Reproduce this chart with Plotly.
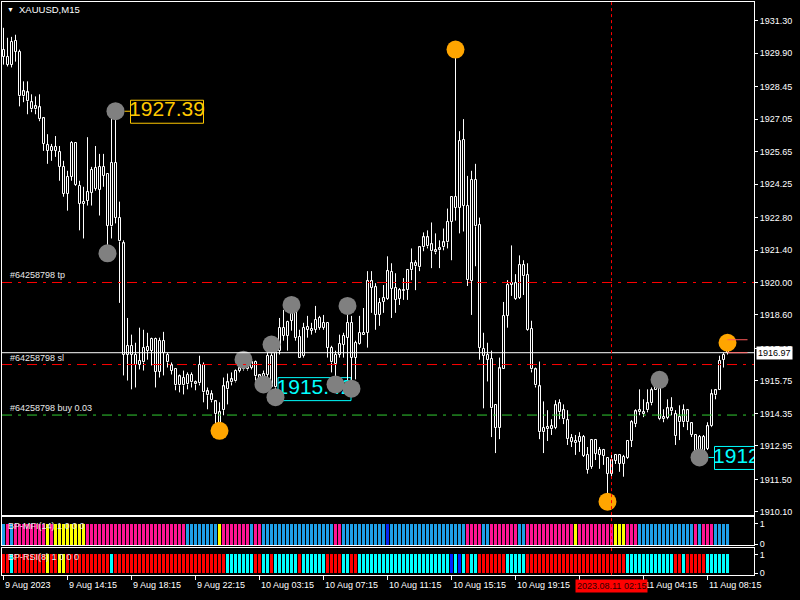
import plotly.graph_objects as go

# ---------------- data ----------------
opens = [1930.05,1929.40,1929.40,1930.43,1929.96,1928.25,1928.20,1927.78,1927.60,1927.56,
         1927.09,1925.93,1925.68,1925.85,1925.63,1924.99,1923.83,1926.02,1926.02,1924.17,
         1923.40,1923.53,1923.87,1924.95,1924.00,1924.99,1924.69,1922.42,1925.16,1922.80,
         1921.69,1916.89,1917.27,1916.89,1916.46,1916.55,1917.06,1917.57,1917.57,1916.16,
         1917.49,1916.89,1916.42,1916.25,1915.95,1915.56,1915.60,1916.03,1915.60,1916.46,
         1916.46,1915.30,1915.17,1914.87,1913.63,1914.49,1915.39,1915.69,1915.73,1916.20,
         1916.25,1916.55,1916.55,1916.59,1915.77,1915.82,1916.84,1916.84,1915.47,1917.06,
         1917.70,1917.70,1918.35,1918.99,1917.66,1916.84,1918.09,1917.92,1917.96,1918.47,
         1918.26,1918.26,1917.19,1916.50,1916.89,1917.32,1917.62,1918.26,1916.76,1917.36,
         1917.75,1917.83,1920.06,1919.80,1918.60,1919.16,1919.29,1920.45,1919.76,1919.29,
         1919.63,1919.67,1920.53,1920.70,1920.66,1921.52,1921.95,1921.65,1921.30,1921.39,
         1921.52,1921.73,1922.63,1923.23,1923.23,1926.15,1923.32,1920.06,1924.43,1922.50,
         1917.15,1916.89,1916.72,1914.70,1913.72,1916.25,1918.56,1919.97,1919.29,1919.33,
         1920.75,1920.32,1918.00,1916.25,1915.52,1913.54,1913.67,1913.67,1913.72,1914.79,
         1914.49,1914.06,1913.29,1913.07,1913.33,1913.33,1911.92,1912.05,1913.20,1912.77,
         1912.77,1912.43,1911.75,1912.56,1912.56,1912.17,1912.43,1913.16,1913.89,1914.49,
         1914.32,1914.49,1914.79,1915.65,1915.43,1914.10,1914.15,1914.57,1914.32,1913.97,
         1914.49,1913.97,1913.93,1913.42,1912.60,1912.69,1912.82,1913.80,1915.13,1915.35,
         1916.67,1917.06]
highs = [1930.99,1930.56,1930.60,1930.69,1930.05,1928.68,1928.68,1928.12,1928.03,1928.12,
         1927.13,1926.40,1925.98,1926.32,1925.89,1925.25,1924.82,1926.10,1926.06,1924.39,
         1924.13,1926.27,1924.99,1925.89,1925.55,1925.55,1924.69,1927.30,1927.39,1923.49,
         1921.82,1918.47,1917.75,1917.40,1918.05,1917.96,1917.83,1917.62,1917.62,1917.62,
         1917.87,1916.97,1916.55,1916.25,1916.03,1916.20,1916.12,1916.12,1915.77,1916.84,
         1916.55,1915.47,1915.35,1914.92,1914.83,1915.90,1916.07,1916.12,1916.25,1916.46,
         1916.67,1916.63,1916.67,1916.63,1916.03,1916.20,1917.32,1917.32,1917.10,1918.47,
         1918.82,1918.35,1919.03,1918.99,1917.96,1918.26,1918.56,1918.26,1918.99,1918.56,
         1918.60,1918.26,1917.27,1917.06,1917.75,1917.83,1918.99,1918.56,1917.49,1918.56,
         1918.90,1920.49,1920.49,1919.97,1919.33,1919.89,1921.13,1920.83,1920.40,1919.76,
         1920.19,1920.53,1921.47,1920.96,1921.56,1922.16,1922.25,1922.59,1922.12,1921.82,
         1922.33,1923.19,1923.70,1930.05,1926.53,1927.05,1924.60,1924.82,1925.12,1922.80,
         1917.83,1917.40,1917.06,1914.70,1916.76,1919.16,1920.10,1921.60,1920.36,1921.17,
         1920.96,1920.83,1918.35,1916.33,1916.59,1914.87,1914.49,1914.10,1914.92,1914.96,
         1914.74,1914.49,1913.46,1913.42,1913.54,1913.42,1912.90,1913.24,1913.20,1912.90,
         1912.82,1912.47,1912.60,1912.60,1912.60,1912.56,1913.20,1914.06,1914.53,1915.39,
         1914.96,1915.39,1915.47,1915.69,1915.80,1914.53,1914.96,1915.05,1914.49,1914.70,
         1914.74,1914.53,1913.97,1913.46,1913.42,1913.42,1913.97,1915.39,1915.39,1916.84,
         1916.97,1917.40]
lows = [1929.40,1929.32,1929.28,1929.53,1927.60,1927.78,1927.26,1927.35,1927.26,1926.96,
        1925.68,1925.12,1925.25,1925.42,1924.39,1923.70,1923.10,1924.39,1924.17,1922.25,
        1921.90,1923.32,1923.32,1923.96,1922.89,1924.13,1921.26,1921.90,1922.55,1919.12,
        1915.99,1915.77,1915.39,1915.47,1916.25,1916.20,1916.67,1916.42,1915.47,1915.90,
        1915.99,1916.33,1916.03,1915.35,1915.26,1915.17,1915.39,1915.47,1915.35,1915.56,
        1914.83,1914.53,1914.83,1913.84,1913.60,1914.27,1914.74,1915.56,1915.69,1916.12,
        1916.20,1916.20,1916.25,1915.77,1915.60,1915.60,1915.90,1915.45,1915.05,1916.89,
        1917.49,1917.06,1917.92,1917.49,1916.76,1916.76,1917.62,1917.75,1917.83,1917.96,
        1917.96,1916.76,1916.12,1915.60,1916.76,1916.76,1915.60,1915.42,1915.82,1917.32,
        1917.75,1917.19,1918.69,1917.96,1918.13,1918.69,1919.25,1918.47,1918.69,1919.03,
        1919.25,1919.25,1920.10,1919.67,1920.49,1921.35,1921.47,1920.62,1921.22,1920.62,
        1921.39,1921.47,1920.96,1922.67,1922.12,1922.20,1919.85,1918.60,1920.70,1916.67,
        1914.57,1915.73,1913.33,1912.64,1913.24,1916.25,1918.05,1919.42,1919.25,1919.29,
        1919.46,1917.92,1916.12,1915.47,1913.24,1912.64,1913.16,1913.42,1913.67,1914.10,
        1913.89,1912.99,1912.90,1912.56,1912.69,1912.47,1911.75,1911.96,1912.34,1911.96,
        1912.13,1910.54,1911.53,1912.17,1911.83,1911.62,1912.39,1912.90,1913.76,1914.27,
        1914.19,1914.40,1914.70,1915.35,1914.06,1913.97,1914.10,1914.27,1912.99,1913.20,
        1913.76,1913.63,1913.33,1912.56,1912.45,1912.56,1912.77,1913.76,1914.96,1915.35,
        1916.33,1916.89]
closes = [1929.75,1929.75,1930.39,1929.96,1928.03,1928.03,1927.82,1927.47,1927.47,1927.05,
          1925.98,1925.68,1925.85,1925.68,1924.99,1923.83,1924.56,1924.56,1924.22,1923.40,
          1923.49,1923.92,1924.86,1924.05,1924.99,1924.60,1922.46,1925.16,1922.80,1921.77,
          1916.89,1917.27,1916.89,1916.46,1916.63,1917.19,1917.23,1917.06,1916.16,1917.49,
          1916.97,1916.55,1916.20,1915.56,1915.56,1915.90,1916.03,1915.69,1915.69,1915.65,
          1915.26,1915.13,1914.92,1914.32,1914.40,1915.52,1915.69,1915.82,1916.20,1916.29,
          1916.55,1916.25,1916.33,1915.95,1915.99,1916.07,1916.03,1915.47,1917.06,1918.05,
          1918.05,1918.30,1918.99,1917.62,1916.76,1918.05,1917.96,1918.00,1918.39,1918.05,
          1918.05,1917.19,1916.55,1916.89,1917.36,1917.70,1918.26,1916.76,1917.40,1917.83,
          1917.83,1920.06,1919.76,1918.60,1919.12,1919.33,1920.49,1919.72,1919.25,1919.67,
          1919.67,1920.53,1920.83,1920.83,1921.52,1921.95,1921.56,1921.35,1921.39,1921.47,
          1921.73,1922.63,1923.70,1923.70,1926.10,1923.32,1920.10,1924.43,1922.42,1917.19,
          1916.84,1916.67,1914.57,1913.72,1916.29,1918.56,1919.89,1919.89,1919.97,1920.75,
          1920.27,1917.96,1916.25,1915.56,1913.54,1913.72,1913.76,1913.80,1914.70,1914.40,
          1914.10,1913.24,1913.12,1913.16,1913.12,1912.52,1912.56,1913.20,1912.60,1912.56,
          1912.52,1911.75,1912.34,1912.30,1912.17,1912.47,1913.16,1913.97,1914.44,1914.40,
          1914.40,1914.79,1915.35,1915.35,1914.10,1914.19,1914.57,1914.44,1913.37,1914.19,
          1913.97,1914.49,1913.42,1912.69,1913.33,1913.33,1913.80,1915.17,1915.35,1916.63,
          1916.89,1916.97]

price_ticks = [1931.30, 1929.90, 1928.45, 1927.05, 1925.65, 1924.25, 1922.80, 1921.40,
               1920.00, 1918.60, 1917.15, 1915.75, 1914.35, 1912.95, 1911.50, 1910.10]
time_tick_idx = [0, 16, 32, 48, 64, 80, 96, 112, 128, 144, 160, 176]
time_tick_labels = ["9 Aug 2023", "9 Aug 14:15", "9 Aug 18:15", "9 Aug 22:15",
                    "10 Aug 03:15", "10 Aug 07:15", "10 Aug 11:15", "10 Aug 15:15",
                    "10 Aug 19:15", "11 Aug 00:15", "11 Aug 04:15", "11 Aug 08:15"]

# fractal circles (bar indices)
gray_high_idx = [28, 60, 67, 72, 86, 164]
gray_low_idx = [26, 65, 68, 83, 87, 174]
orange_high_idx = [113, 181]
orange_low_idx = [54, 151]

# order / price levels
tp_level = 1920.00
sl_level = 1916.46
buy_level = 1914.28
bid_price = 1916.97
ask_price = 1917.53
order_label = "#64258798"
crosshair_idx = 152
crosshair_label = "2023.08.11 02:15"

# indicator states per bar, run-length: P=pink, B=blue, D=dark blue, Y=yellow
mfi_runs = [("B",1),("P",1),("B",1),("P",8),("Y",1),("P",1),("Y",8),("P",25),("B",8),("Y",1),
            ("P",7),("B",1),("P",2),("B",18),("P",2),("B",11),("D",1),("B",19),("P",4),("B",2),
            ("P",7),("B",2),("P",12),("Y",1),("P",9),("Y",3),("P",3),("B",14),("P",1),("B",1),
            ("P",3),("B",4)]
# R=red, C=cyan, D=blue, Y=yellow
rsi_runs = [("R",2),("C",1),("R",8),("Y",1),("R",2),("Y",2),("R",11),("C",1),("R",28),("C",7),
            ("R",2),("C",2),("R",1),("C",6),("R",1),("C",6),("R",4),("C",2),("R",2),("C",23),
            ("D",1),("C",1),("D",1),("C",1),("R",1),("C",2),("R",7),("C",5),("R",25),("C",12),
            ("R",2),("C",1),("R",5),("C",6)]

# ---------------- figure ----------------
n = len(closes)
idx = list(range(n))
FONT = "Liberation Sans, Arial, sans-serif"
W, H = 800, 600
xdom = [2 / W, 754 / W]
main_dom = [(H - 518) / H, (H - 2) / H]
mfi_dom = [(H - 549) / H, (H - 520) / H]
rsi_dom = [(H - 579) / H, (H - 552) / H]
xr = [-0.375, 187.625]
PX_PER_BAR = (xdom[1] - xdom[0]) * W / (xr[1] - xr[0])
yr_main = [1909.987, 1932.104]

mfi_col = {"P": "#FF1493", "B": "#1E9FE8", "D": "#0A28F0", "Y": "#FFFF00"}
rsi_col = {"R": "#FF0000", "C": "#00FFFF", "D": "#0020FF", "Y": "#FFFF00"}
mfi_colors = [mfi_col[c] for c, k in mfi_runs for _ in range(k)]
rsi_colors = [rsi_col[c] for c, k in rsi_runs for _ in range(k)]

body_lo = [min(o, c) for o, c in zip(opens, closes)]
body_hi = [max(o, c) for o, c in zip(opens, closes)]

# wicks outside the bodies
wx, wy = [], []
for i in idx:
    wx += [i, i, None, i, i, None]
    wy += [highs[i], body_hi[i], None, body_lo[i], lows[i], None]

fig = go.Figure()
# candle bodies (hollow)
fig.add_trace(go.Bar(x=idx, base=body_lo, y=[h - l for h, l in zip(body_hi, body_lo)],
                     width=0.5, marker=dict(color="black", line=dict(color="white", width=1)),
                     hoverinfo="skip", xaxis="x", yaxis="y"))
fig.add_trace(go.Scatter(x=wx, y=wy, mode="lines", line=dict(color="white", width=1),
                         hoverinfo="skip", xaxis="x", yaxis="y"))

# price labels (text) for fractals, drawn before the circles
label_specs = [  # (bar index, value, colour, pixel offset of box centre from the point)
    (28, highs[28], "#FFC800", 51.5),
    (87, lows[87], "#00FFFF", -37.0),
    (174, lows[174], "#00FFFF", 51.5),
]
for i, val, col, off in label_specs:
    fig.add_trace(go.Scatter(x=[i + off / PX_PER_BAR], y=[val], mode="text",
                             text=[f"{val:.2f}"], textposition="middle center",
                             textfont=dict(family=FONT, size=21, color=col),
                             hoverinfo="skip", xaxis="x", yaxis="y"))

# fractal circles
fig.add_trace(go.Scatter(
    x=gray_high_idx + gray_low_idx,
    y=[highs[i] for i in gray_high_idx] + [lows[i] for i in gray_low_idx],
    mode="markers", marker=dict(size=18, color="#808080"), hoverinfo="skip",
    xaxis="x", yaxis="y"))
fig.add_trace(go.Scatter(
    x=orange_high_idx + orange_low_idx,
    y=[highs[i] for i in orange_high_idx] + [lows[i] for i in orange_low_idx],
    mode="markers", marker=dict(size=18, color="#FFA500"), hoverinfo="skip",
    xaxis="x", yaxis="y"))

fig.add_trace(go.Bar(x=idx, y=[1] * n, marker=dict(color=mfi_colors, line=dict(width=0)),
                     width=0.75, hoverinfo="skip", xaxis="x2", yaxis="y2"))
fig.add_trace(go.Bar(x=idx, y=[1] * n, marker=dict(color=rsi_colors, line=dict(width=0)),
                     width=0.75, hoverinfo="skip", xaxis="x3", yaxis="y3"))

shapes = []
annotations = []

# boxes around the price labels (below the traces)
for i, val, col, off in label_specs:
    shapes.append(dict(type="rect", xref="x", xsizemode="pixel", xanchor=i,
                       x0=off - 36.5, x1=off + 36.5, yref="y", ysizemode="pixel", yanchor=val,
                       y0=-12, y1=11, line=dict(color=col, width=1), fillcolor="black",
                       layer="below"))
    if off > 0:
        shapes.append(dict(type="line", xref="x", xsizemode="pixel", xanchor=i, x0=9,
                           x1=off - 36.5, yref="y", ysizemode="pixel", yanchor=val, y0=0, y1=0,
                           line=dict(color=col, width=1), layer="below"))

def hline(level, color, dash, width=1):
    shapes.append(dict(type="line", xref="paper", x0=xdom[0], x1=xdom[1], yref="y",
                       y0=level, y1=level, line=dict(color=color, width=width, dash=dash)))

hline(tp_level, "#FF0000", "10px,6px,3px,6px")
hline(sl_level, "#FF0000", "10px,6px,3px,6px")
hline(buy_level, "#32CD32", "10px,6px,3px,6px")
hline(bid_price, "#FFFFFF", "solid")

# ask/bid tick segments at the last bar
for lv in (ask_price, bid_price):
    shapes.append(dict(type="line", xref="x", x0=n - 1, x1=n + 4, yref="y", y0=lv, y1=lv,
                       line=dict(color="#FF5A5A", width=1)))

# crosshair
shapes.append(dict(type="line", xref="x", x0=crosshair_idx, x1=crosshair_idx, yref="paper",
                   y0=rsi_dom[0], y1=main_dom[1],
                   line=dict(color="#FF0000", width=1, dash="3px,3px")))

for lv, txt in ((tp_level, "tp"), (sl_level, "sl"), (buy_level, "buy 0.03")):
    annotations.append(dict(xref="paper", x=8 / W, xanchor="left", yref="y", y=lv,
                            yanchor="middle", yshift=7, showarrow=False,
                            text=f"{order_label} {txt}",
                            font=dict(family=FONT, size=9, color="#E8E8E8")))

# title
annotations.append(dict(xref="paper", yref="paper", x=5 / W, y=(H - 10) / H, xanchor="left",
                        yanchor="middle", text="▼", showarrow=False,
                        font=dict(family=FONT, size=7, color="white")))
annotations.append(dict(xref="paper", yref="paper", x=17 / W, y=(H - 10) / H, xanchor="left",
                        yanchor="middle", text="XAUUSD,M15", showarrow=False,
                        font=dict(family=FONT, size=9.5, color="white")))

# indicator names
annotations.append(dict(xref="paper", yref="paper", x=6 / W, y=(H - 530) / H, xanchor="left",
                        yanchor="middle", text="BP-MFI(14) 1 0 0 0", showarrow=False,
                        font=dict(family=FONT, size=9, color="#E8E8E8")))
annotations.append(dict(xref="paper", yref="paper", x=6 / W, y=(H - 561) / H, xanchor="left",
                        yanchor="middle", text="BP-RSI(8) 1 0 0 0", showarrow=False,
                        font=dict(family=FONT, size=9, color="#E8E8E8")))

# time labels (left aligned at tick)
for i, lab in zip(time_tick_idx, time_tick_labels):
    annotations.append(dict(xref="x3", x=i, xanchor="left", xshift=-1, yref="paper",
                            y=(H - 582) / H, yanchor="top", text=lab, showarrow=False,
                            font=dict(family=FONT, size=9, color="white")))
# crosshair time box
annotations.append(dict(xref="x3", x=crosshair_idx, xanchor="center", yref="paper",
                        y=(H - 583) / H, yanchor="top", text=crosshair_label, showarrow=False,
                        bgcolor="#FF0000", borderpad=1,
                        font=dict(family=FONT, size=9, color="#300000")))
# current price box
annotations.append(dict(xref="paper", x=756 / W, xanchor="left", yref="y", y=bid_price,
                        yanchor="middle", text=f"{bid_price:.2f}", showarrow=False,
                        bgcolor="white", borderpad=1,
                        font=dict(family=FONT, size=9, color="black")))

axis_common = dict(showgrid=False, zeroline=False, showline=True, linecolor="white",
                   linewidth=1, mirror=True)
fig.update_layout(
    width=W, height=H, margin=dict(l=0, r=0, t=0, b=0),
    paper_bgcolor="black", plot_bgcolor="black", showlegend=False,
    font=dict(family=FONT, color="white", size=9),
    bargap=0, barmode="overlay",
    xaxis=dict(domain=xdom, range=xr, anchor="y", showticklabels=False, ticks="", **axis_common),
    yaxis=dict(domain=main_dom, range=yr_main, anchor="x", side="right",
               tickvals=price_ticks, ticktext=[f"{v:.2f}" for v in price_ticks],
               ticks="outside", ticklen=3, tickcolor="white",
               tickfont=dict(family=FONT, size=9, color="white"), **axis_common),
    xaxis2=dict(domain=xdom, range=xr, anchor="y2", showticklabels=False, ticks="", **axis_common),
    yaxis2=dict(domain=mfi_dom, range=[-0.05, 1.33], anchor="x2", side="right",
                tickvals=[0, 1], ticktext=["0", "1"], ticks="outside", ticklen=3,
                tickcolor="white", tickfont=dict(family=FONT, size=9, color="white"), **axis_common),
    xaxis3=dict(domain=xdom, range=xr, anchor="y3", showticklabels=False,
                tickvals=time_tick_idx, ticks="outside", ticklen=4, tickcolor="white", **axis_common),
    yaxis3=dict(domain=rsi_dom, range=[-0.1, 1.32], anchor="x3", side="right",
                tickvals=[0, 1], ticktext=["0", "1"], ticks="outside", ticklen=3,
                tickcolor="white", tickfont=dict(family=FONT, size=9, color="white"), **axis_common),
    shapes=shapes, annotations=annotations,
)

fig.write_html("out.html", config={"displayModeBar": False},
               post_script="document.body.style.margin='0px';")
